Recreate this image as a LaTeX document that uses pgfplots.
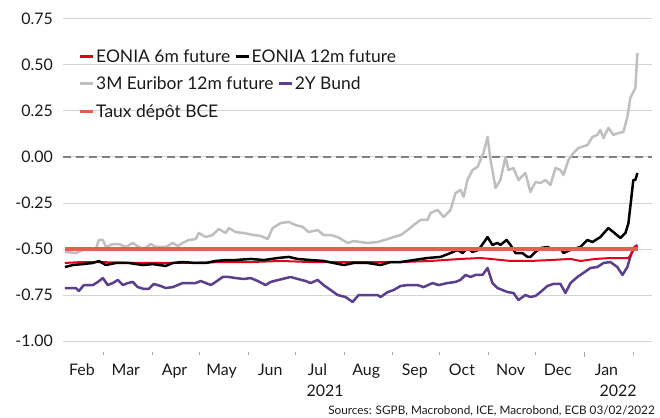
\documentclass[border=0pt]{standalone}
\usepackage{fontspec}
\setmainfont{Lato}
\usepackage{pgfplots}
\pgfplotsset{compat=1.18}
\definecolor{eonsix}{HTML}{E2001A}
\definecolor{euribor}{HTML}{BFBFBF}
\definecolor{bund}{HTML}{5B3E8E}
\definecolor{bce}{HTML}{E2604F}
\definecolor{gridc}{HTML}{D4D4D4}
\definecolor{txt}{HTML}{1A1A1A}
\begin{document}
\begin{tikzpicture}[x=1bp,y=1bp]
\useasboundingbox (0,0) rectangle (660,417);
\begin{axis}[at={(63bp,76bp)}, anchor=south west, scale only axis,
  width=589bp, height=322bp,
  xmin=2, xmax=377, ymin=-1, ymax=0.75,
  clip=false,
  axis line style={draw=none},
  major tick length=0,
  ytick={-1,-0.75,-0.5,-0.25,0,0.25,0.5,0.75},
  ymajorgrids, grid style={gridc, line width=1bp},
  extra y ticks={0}, extra y tick labels={},
  extra y tick style={grid style={draw=gray, line width=1.8bp, dash pattern=on 8bp off 5bp}},
  every tick label/.append style={font=\fontsize{16}{19}\selectfont, text=txt},
  yticklabel style={anchor=east, inner sep=0pt, xshift=-10bp, /pgf/number format/fixed, /pgf/number format/fixed zerofill, /pgf/number format/precision=2, /pgf/number format/assume math mode=true},
  xtick={14,42,73,103,134,164,195,226,256,287,317,348},
  xticklabels={Feb,Mar,Apr,May,Jun,Jul,Aug,Sep,Oct,Nov,Dec,Jan},
  xticklabel style={anchor=base, inner sep=0pt, yshift=-34bp},
  line join=round,
]
\pgfplotsinvokeforeach{28,59,89,120,150,181,212,242,273,303,365}{
  \draw[gray!70, line width=1bp] ([yshift=-11bp]axis cs:#1,-1) -- ([yshift=-13.5bp]axis cs:#1,-1);
}
\draw[gray!70, line width=1bp] ([yshift=-11bp]axis cs:334,-1) -- ([yshift=-16bp]axis cs:334,-1);

% 3M Euribor 12m future
\addplot[euribor, line width=2.5bp] coordinates {
(3.2,-0.516)(10.2,-0.522)(14.6,-0.505)(18.4,-0.505)(22.9,-0.500)(24.8,-0.451)(27.4,-0.451)(29.3,-0.489)(33.7,-0.473)(37.5,-0.473)(42.0,-0.489)(46.4,-0.467)(50.3,-0.489)(53.4,-0.500)(57.9,-0.473)(61.1,-0.489)(67.4,-0.489)(71.9,-0.467)(75.1,-0.484)(78.2,-0.467)(82.1,-0.451)(86.5,-0.446)(88.4,-0.413)(92.9,-0.435)(97.3,-0.424)(101.1,-0.391)(105.6,-0.413)(107.5,-0.386)(112.0,-0.408)(117.0,-0.413)(123.4,-0.424)(127.9,-0.429)(132.3,-0.446)(135.5,-0.386)(140.6,-0.359)(145.7,-0.353)(150.1,-0.370)(154.6,-0.380)(158.4,-0.408)(164.1,-0.397)(167.9,-0.424)(172.4,-0.424)(176.8,-0.435)(183.2,-0.467)(187.0,-0.457)(191.5,-0.462)(195.9,-0.467)(202.3,-0.462)(208.7,-0.446)(212.5,-0.435)(217.0,-0.424)(221.4,-0.397)(225.2,-0.370)(229.6,-0.342)(234.1,-0.342)(236.0,-0.304)(240.5,-0.288)(244.3,-0.326)(248.7,-0.288)(251.9,-0.196)(255.1,-0.179)(257.0,-0.217)(259.5,-0.125)(262.7,-0.071)(265.9,-0.054)(267.8,-0.016)(269.7,0.022)(272.3,0.109)(274.2,-0.016)(277.4,-0.168)(280.5,-0.125)(283.7,0.000)(285.6,-0.071)(288.8,-0.060)(292.0,-0.125)(296.4,-0.087)(299.6,-0.190)(302.8,-0.136)(306.0,-0.141)(309.2,-0.125)(312.3,-0.152)(315.5,-0.060)(318.7,-0.071)(320.6,-0.098)(323.8,-0.016)(327.0,0.022)(330.2,0.049)(335.9,0.065)(339.1,0.109)(342.2,0.120)(344.1,0.147)(346.1,0.103)(349.2,0.158)(352.4,0.120)(355.6,0.130)(358.8,0.136)(361.3,0.217)(363.2,0.321)(366.4,0.375)(367.7,0.565)
};
% 2Y Bund
\addplot[bund, line width=2.5bp] coordinates {
(3.2,-0.712)(10.2,-0.712)(12.1,-0.728)(15.3,-0.696)(21.0,-0.696)(24.2,-0.679)(27.4,-0.658)(30.5,-0.696)(33.7,-0.685)(36.9,-0.668)(40.1,-0.696)(43.3,-0.685)(46.4,-0.679)(49.6,-0.707)(53.4,-0.717)(56.6,-0.717)(59.8,-0.690)(64.2,-0.701)(67.4,-0.712)(71.9,-0.707)(75.1,-0.696)(78.2,-0.685)(82.1,-0.685)(86.5,-0.685)(89.7,-0.674)(92.9,-0.685)(96.1,-0.696)(99.2,-0.679)(103.7,-0.652)(107.5,-0.652)(112.0,-0.658)(117.0,-0.663)(121.5,-0.658)(126.0,-0.674)(131.0,-0.696)(134.2,-0.679)(139.3,-0.668)(146.9,-0.652)(151.4,-0.663)(156.5,-0.674)(159.7,-0.685)(164.1,-0.668)(167.9,-0.696)(172.4,-0.723)(176.8,-0.750)(181.9,-0.761)(186.4,-0.788)(190.2,-0.750)(195.9,-0.750)(202.3,-0.750)(204.2,-0.761)(208.7,-0.734)(212.5,-0.723)(216.9,-0.701)(221.4,-0.696)(227.7,-0.696)(231.6,-0.707)(237.3,-0.685)(241.1,-0.696)(246.8,-0.685)(251.9,-0.679)(255.1,-0.668)(258.3,-0.641)(261.5,-0.652)(264.6,-0.641)(269.1,-0.641)(272.3,-0.603)(275.4,-0.685)(278.6,-0.712)(281.8,-0.723)(285.0,-0.734)(288.8,-0.739)(292.0,-0.777)(296.4,-0.750)(299.6,-0.761)(302.8,-0.755)(306.0,-0.734)(310.4,-0.701)(314.2,-0.690)(318.7,-0.690)(321.9,-0.739)(325.1,-0.685)(329.5,-0.652)(333.3,-0.630)(337.8,-0.603)(342.2,-0.598)(346.1,-0.576)(350.5,-0.571)(354.9,-0.598)(358.2,-0.641)(361.3,-0.598)(363.2,-0.543)(365.1,-0.495)(367.7,-0.478)
};
% EONIA 6m future
\addplot[eonsix, line width=2bp] coordinates {
(3.2,-0.576)(13.4,-0.571)(26.1,-0.571)(45.2,-0.576)(64.2,-0.576)(83.3,-0.576)(102.4,-0.571)(121.5,-0.571)(140.6,-0.565)(159.7,-0.571)(178.8,-0.571)(197.8,-0.571)(216.9,-0.571)(236.0,-0.565)(255.1,-0.554)(267.8,-0.549)(274.2,-0.554)(286.9,-0.565)(299.6,-0.565)(312.3,-0.560)(325.1,-0.554)(331.4,-0.565)(341.0,-0.554)(350.5,-0.549)(362.0,-0.549)(364.5,-0.516)(366.4,-0.489)(367.7,-0.484)
};
% EONIA 12m future
\addplot[black, line width=2.5bp] coordinates {
(3.2,-0.598)(8.3,-0.587)(14.6,-0.582)(21.0,-0.576)(24.8,-0.565)(29.3,-0.587)(35.6,-0.576)(43.9,-0.576)(52.8,-0.587)(59.2,-0.582)(67.4,-0.592)(71.9,-0.576)(78.2,-0.571)(86.5,-0.576)(92.9,-0.576)(99.2,-0.565)(105.6,-0.560)(112.0,-0.560)(121.5,-0.554)(129.8,-0.560)(138.7,-0.549)(145.7,-0.543)(151.4,-0.554)(159.7,-0.560)(167.9,-0.565)(174.3,-0.576)(180.7,-0.587)(187.0,-0.576)(195.9,-0.576)(204.2,-0.587)(210.6,-0.571)(216.9,-0.571)(225.2,-0.560)(234.1,-0.549)(242.4,-0.543)(248.7,-0.522)(253.2,-0.505)(256.4,-0.522)(259.5,-0.495)(262.7,-0.516)(266.5,-0.505)(269.7,-0.467)(272.3,-0.435)(275.4,-0.478)(278.6,-0.467)(280.5,-0.478)(284.4,-0.451)(286.9,-0.478)(290.1,-0.522)(294.5,-0.522)(297.7,-0.543)(299.6,-0.543)(302.8,-0.516)(306.0,-0.495)(310.4,-0.489)(314.2,-0.505)(318.7,-0.495)(320.6,-0.522)(325.1,-0.505)(331.4,-0.489)(335.9,-0.451)(339.1,-0.462)(344.1,-0.435)(349.2,-0.386)(352.4,-0.408)(356.9,-0.440)(360.1,-0.413)(362.0,-0.359)(363.9,-0.217)(365.1,-0.125)(366.4,-0.125)(367.7,-0.087)
};
% Taux depot BCE
\addplot[bce, line width=3.5bp] coordinates {(3.2,-0.5)(368,-0.5)};
\end{axis}

% legend
\begin{scope}[every node/.style={inner sep=0pt, anchor=base west, font=\fontsize{17.5}{20}\selectfont, text=txt}]
\draw[eonsix, line width=3bp] (80,361) -- (93,361);
\node (l1) at (96,354.5) {EONIA 6m future};
\draw[black, line width=3bp] (l1.base east) ++(5,6.5) coordinate (s2) -- ++(13,0);
\node at ([shift={(16,-6.5)}]s2) {EONIA 12m future};
\draw[euribor, line width=3bp] (80,334) -- (93,334);
\node (l3) at (96,327.5) {3M Euribor 12m future};
\draw[bund, line width=3bp] (l3.base east) ++(5,6.5) coordinate (s4) -- ++(13,0);
\node at ([shift={(16,-6.5)}]s4) {2Y Bund};
\draw[bce, line width=3bp] (80,306) -- (93,306);
\node at (96,299.5) {Taux dépôt BCE};
\end{scope}

\node[anchor=base, inner sep=0pt, font=\fontsize{16}{19}\selectfont, text=txt] at (325,21) {2021};
\node[anchor=base, inner sep=0pt, font=\fontsize{16}{19}\selectfont, text=txt] at (618,21) {2022};
\node[anchor=base east, inner sep=0pt, font=\fontsize{11.8}{14}\selectfont, text=txt] at (655,2.5) {Sources: SGPB, Macrobond, ICE, Macrobond, ECB 03/02/2022};
\end{tikzpicture}
\end{document}
